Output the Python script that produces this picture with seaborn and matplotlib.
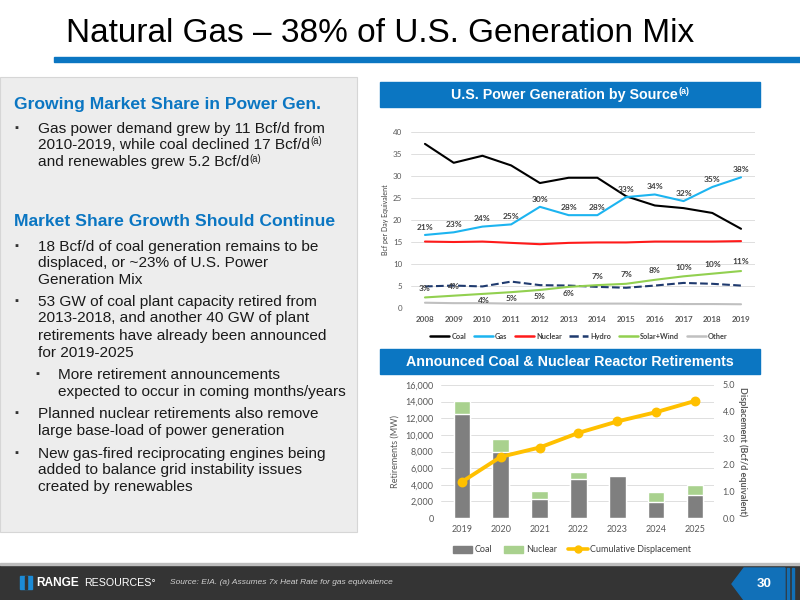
import matplotlib.pyplot as plt
import matplotlib.patches as mpatches
from matplotlib.lines import Line2D
import numpy as np
import pandas as pd
import seaborn as sns

# Power generation by source, Bcf/d equivalent
years = list(range(2008, 2020))
coal = [37.3, 33.0, 34.6, 32.4, 28.4, 29.6, 29.6, 25.4, 23.3, 22.7, 21.6, 18.0]
gas = [16.6, 17.2, 18.5, 19.0, 23.0, 21.1, 21.1, 25.2, 25.8, 24.3, 27.5, 29.7]
nuclear = [15.1, 15.0, 15.1, 14.8, 14.5, 14.8, 14.9, 14.9, 15.1, 15.1, 15.1, 15.2]
hydro = [4.9, 5.1, 4.9, 6.0, 5.2, 5.1, 4.8, 4.6, 5.1, 5.7, 5.5, 5.1]
solar_wind = [2.4, 2.8, 3.2, 3.6, 4.1, 4.8, 5.2, 5.5, 6.4, 7.2, 7.8, 8.4]
other = [1.2, 1.1, 1.1, 1.0, 1.0, 1.0, 1.0, 1.0, 0.95, 0.9, 0.9, 0.85]
gas_share = ["21%", "23%", "24%", "25%", "30%", "28%", "28%",
             "33%", "34%", "32%", "35%", "38%"]
renew_share = ["3%", "4%", "4%", "5%", "5%", "6%", "7%",
               "7%", "8%", "10%", "10%", "11%"]

# Announced retirements (MW) and cumulative displacement (Bcf/d)
ret_years = ["2019", "2020", "2021", "2022", "2023", "2024", "2025"]
ret_coal = [12500, 7900, 2250, 4750, 5050, 1950, 2800]
ret_nuclear = [1550, 1650, 1050, 750, 0, 1150, 1200]
displacement = [1.36, 2.30, 2.65, 3.20, 3.63, 3.98, 4.40]

W, H = 800, 600
BLUE = "#0B76C2"
CHART_FONT = ["Lato", "DejaVu Sans"]
TEXT_FONT = ["Liberation Sans", "DejaVu Sans"]

sns.set_style("white")
plt.rcParams["font.family"] = TEXT_FONT


def fx(px):
    return px / W


def fy(py):
    return 1 - py / H


def px_rect(left, top, right, bottom):
    return [left / W, 1 - bottom / H, (right - left) / W, (bottom - top) / H]


fig = plt.figure(figsize=(8, 6), dpi=100)
renderer = fig.canvas.get_renderer()


def text_with_sup(x, y, main, sup, size, raise_px, **kw):
    """Draw main text, then a small superscript right after it."""
    t = fig.text(fx(x), fy(y), main, fontsize=size, va="baseline", **kw)
    right = t.get_window_extent(renderer).x1
    fig.text(right / W + 0.5 / W, fy(y - raise_px), sup, fontsize=size * 0.62,
             va="baseline", **kw)


# ---- slide decoration ----
fig.text(fx(66), fy(34), "Natural Gas \u2013 38% of U.S. Generation Mix",
         fontsize=24, family=["Liberation Sans Narrow", "Liberation Sans"],
         va="center", ha="left", color="black")
fig.add_artist(mpatches.Rectangle((fx(54), fy(62)), 1 - fx(54), 5 / H,
                                  color=BLUE, transform=fig.transFigure))

fig.add_artist(mpatches.Rectangle((0, fy(532)), fx(357), (532 - 77) / H,
                                  facecolor="#EDEDED", edgecolor="#D6D6D6",
                                  lw=0.8, transform=fig.transFigure))

header_kw = dict(fontsize=12.6, fontweight="bold", color=BLUE, va="center")
body_kw = dict(color="#1A1A1A")
fig.text(fx(14), fy(105), "Growing Market Share in Power Gen.", **header_kw)
fig.text(fx(14), fy(222), "Market Share Growth Should Continue", **header_kw)

bullets = [
    (38, [(128, "Gas power demand grew by 11 Bcf/d from", ""),
          (144, "2010-2019, while coal declined 17 Bcf/d", "(a)"),
          (161, "and renewables grew 5.2 Bcf/d", "(a)")]),
    (38, [(246, "18 Bcf/d of coal generation remains to be", ""),
          (262, "displaced, or ~23% of U.S. Power", ""),
          (279, "Generation Mix", "")]),
    (38, [(301, "53 GW of coal plant capacity retired from", ""),
          (317, "2013-2018, and another 40 GW of plant", ""),
          (335, "retirements have already been announced", ""),
          (352, "for 2019-2025", "")]),
    (58, [(374, "More retirement announcements", ""),
          (391, "expected to occur in coming months/years", "")]),
    (38, [(413, "Planned nuclear retirements also remove", ""),
          (430, "large base-load of power generation", "")]),
    (38, [(453, "New gas-fired reciprocating engines being", ""),
          (469, "added to balance grid instability issues", ""),
          (486, "created by renewables", "")]),
]
for x0, lines in bullets:
    mark_x = 14 if x0 == 38 else 35
    fig.text(fx(mark_x), fy(lines[0][0]), "\u25aa", fontsize=8,
             color="#333333", va="center")
    for y0, line, sup in lines:
        if sup:
            text_with_sup(x0, y0 + 5, line, sup, 11.1, 4.5, **body_kw)
        else:
            fig.text(fx(x0), fy(y0 + 5), line, fontsize=11.1, va="baseline",
                     **body_kw)

# banners
fig.add_artist(mpatches.Rectangle((fx(380), fy(107)), 380 / W, 25 / H,
                                  color=BLUE, transform=fig.transFigure))
fig.add_artist(mpatches.Rectangle((fx(380), fy(374)), 380 / W, 25 / H,
                                  color=BLUE, transform=fig.transFigure))
text_with_sup(451, 98.5, "U.S. Power Generation by Source", "(a)", 10.3, 4.5,
              fontweight="bold", color="white")
fig.text(fx(570), fy(365.5), "Announced Coal & Nuclear Reactor Retirements",
         fontsize=10.3, fontweight="bold", color="white", ha="center",
         va="baseline")

# footer
fig.add_artist(mpatches.Rectangle((0, 0), 1, fy(565), color="#343434",
                                  transform=fig.transFigure))
fig.add_artist(mpatches.Rectangle((0, fy(565)), 1, 2 / H, color="#BDBDBD",
                                  transform=fig.transFigure))
pent = [(732, 584), (744, 568), (785, 568), (785, 600), (744, 600)]
fig.add_artist(mpatches.Polygon([(fx(a), fy(b)) for a, b in pent],
                                color="#1170B8", transform=fig.transFigure))
for sx in (786.5, 791.5):
    fig.add_artist(mpatches.Rectangle((fx(sx), 0), 2 / W, fy(568),
                                      color="#1170B8",
                                      transform=fig.transFigure))
fig.text(fx(764), fy(584), "30", fontsize=9.5, fontweight="bold",
         color="white", ha="center", va="center")
fig.add_artist(mpatches.Rectangle((fx(20), fy(589)), 12 / W, 13 / H,
                                  color="#1C8BD6", transform=fig.transFigure))
fig.add_artist(mpatches.Rectangle((fx(25), fy(589)), 1.5 / W, 13 / H,
                                  color="#343434", transform=fig.transFigure))
fig.text(fx(36), fy(583), "RANGE", fontsize=8.6, fontweight="bold",
         color="white", va="center")
fig.text(fx(84.5), fy(583), "RESOURCES\u00b0", fontsize=7.7, color="white",
         va="center")
fig.text(fx(170), fy(583), "Source: EIA. (a) Assumes 7x Heat Rate for gas equivalence",
         fontsize=6, style="italic", color="#D0D0D0", va="center")

# ---- top chart: power generation by source ----
ax = fig.add_axes(px_rect(410.6, 132, 755.4, 308))
series = [
    ("Coal", coal, "black", "-"),
    ("Gas", gas, "#1CB4F0", "-"),
    ("Nuclear", nuclear, "#FF1A1A", "-"),
    ("Hydro", hydro, "#1F3A6E", "--"),
    ("Solar+Wind", solar_wind, "#92D050", "-"),
    ("Other", other, "#C0C0C0", "-"),
]
handles = []
for name, vals, color, ls in series:
    sns.lineplot(x=years, y=vals, color=color, linestyle=ls, linewidth=1.5,
                 ax=ax)
    handles.append(Line2D([], [], color=color, linestyle=ls, lw=1.8,
                          label=name))

lab_kw = dict(textcoords="offset points", ha="center", fontsize=6,
              fontweight="bold", color="#404040", family=CHART_FONT)
for yr, val, txt in zip(years, gas, gas_share):
    ax.annotate(txt, (yr, val), xytext=(0, 3), va="bottom", **lab_kw)
for yr, val, txt in zip(years, solar_wind, renew_share):
    if 2010 <= yr <= 2013:
        ax.annotate(txt, (yr, val), xytext=(1 if yr == 2010 else 0, -2),
                    va="top", **lab_kw)
    else:
        ax.annotate(txt, (yr, val), xytext=(0, 4), va="bottom", **lab_kw)

ax.set_xlim(2007.5, 2019.5)
ax.set_ylim(0, 40)
ax.set_yticks(range(0, 41, 5))
ax.set_xticks(years)
ax.grid(axis="y", color="#D9D9D9", lw=0.6)
ax.grid(axis="x", visible=False)
sns.despine(ax=ax, left=True, bottom=True)
ax.tick_params(length=0, labelsize=5.8, labelcolor="#595959", pad=6)
for t in ax.get_xticklabels():
    t.set_fontweight("bold")
for t in ax.get_xticklabels() + ax.get_yticklabels():
    t.set_family(CHART_FONT)
ax.set_ylabel("Bcf per Day Equivalent", fontsize=5, color="#404040",
              family=CHART_FONT, labelpad=3)
ax.legend(handles=handles, ncol=6, loc="center", frameon=False,
          bbox_to_anchor=(fx(579), fy(336)), bbox_transform=fig.transFigure,
          prop={"family": CHART_FONT, "size": 5.3, "weight": "bold"},
          handlelength=2.6, columnspacing=1.0, handletextpad=0.3,
          labelcolor="#404040")

# ---- bottom chart: announced retirements ----
ret_total = np.array(ret_coal) + np.array(ret_nuclear)
ax2 = fig.add_axes(px_rect(440.6, 385, 714.4, 518))
sns.barplot(x=ret_years, y=ret_total, color="#A9D18E", saturation=1,
            width=0.43, errorbar=None, ax=ax2)
sns.barplot(x=ret_years, y=ret_coal, color="#7F7F7F", saturation=1,
            width=0.43, errorbar=None, ax=ax2)
ax2.set_ylim(0, 16000)
ax2.set_yticks(range(0, 16001, 2000))
ax2.set_yticklabels([f"{v:,}" for v in range(0, 16001, 2000)])
ax2.grid(axis="y", color="#D9D9D9", lw=0.6)
ax2.set_axisbelow(True)
sns.despine(ax=ax2, left=True, bottom=True)
ax2.tick_params(length=0, labelsize=6.5, labelcolor="#595959", pad=5)
ax2.set_ylabel("Retirements (MW)", fontsize=6.5, color="#595959",
               family=CHART_FONT, labelpad=4)

axr = ax2.twinx()
sns.pointplot(x=ret_years, y=displacement, color="#FFC000", markers="o",
              markersize=5, linewidth=2.8, ax=axr)
axr.set_ylim(0, 5)
axr.set_yticks(np.arange(0, 5.01, 1.0))
axr.set_yticklabels([f"{v:.1f}" for v in np.arange(0, 5.01, 1.0)])
axr.grid(False)
sns.despine(ax=axr, left=True, right=True, bottom=True)
axr.tick_params(length=0, labelsize=6.5, labelcolor="#595959", pad=6)
axr.set_ylabel("Displacement (Bcf/d equivalent)", fontsize=6.5,
               color="#595959", family=CHART_FONT, rotation=270, labelpad=9,
               fontweight="bold")
ax2.set_xlim(-0.55, 6.5)
axr.set_xlim(-0.55, 6.5)
for a in (ax2, axr):
    for t in a.get_xticklabels() + a.get_yticklabels():
        t.set_family(CHART_FONT)

ret_handles = [
    mpatches.Patch(color="#7F7F7F", label="Coal"),
    mpatches.Patch(color="#A9D18E", label="Nuclear"),
    Line2D([], [], color="#FFC000", lw=2.6, marker="o", markersize=5,
           label="Cumulative Displacement"),
]
ax2.legend(handles=ret_handles, ncol=3, loc="center", frameon=False,
           bbox_to_anchor=(fx(572), fy(550)), bbox_transform=fig.transFigure,
           prop={"family": CHART_FONT, "size": 6.5}, labelcolor="#404040",
           handlelength=2.2, columnspacing=1.2, handletextpad=0.3)

fig.savefig("out.png", dpi=100)
